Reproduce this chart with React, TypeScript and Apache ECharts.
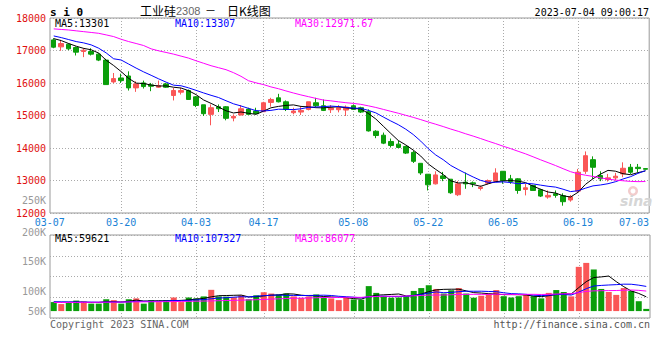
import React, { useEffect, useRef } from 'react';
import * as echarts from 'echarts';

const dates = ['03-07','03-08','03-09','03-10','03-13','03-14','03-15','03-16','03-17','03-20','03-21','03-22','03-23','03-24','03-27','03-28','03-29','03-30','03-31','04-03','04-04','04-06','04-07','04-10','04-11','04-12','04-13','04-14','04-17','04-18','04-19','04-20','04-21','04-24','04-25','04-26','04-27','04-28','05-04','05-05','05-08','05-09','05-10','05-11','05-12','05-15','05-16','05-17','05-18','05-19','05-22','05-23','05-24','05-25','05-26','05-29','05-30','05-31','06-01','06-02','06-05','06-06','06-07','06-08','06-09','06-12','06-13','06-14','06-15','06-16','06-19','06-20','06-21','06-26','06-27','06-28','06-29','06-30','07-03','07-04'];

const opens = [17326,17112,17193,17092,16969,16969,16888,16705,16033,16155,16216,15850,16002,15941,15870,15972,15616,15717,15768,15575,15330,15035,15269,15269,14923,15015,15198,15137,15117,15402,15544,15422,15086,15106,15188,15392,15300,15178,15178,15168,15300,15239,15117,14516,14394,14201,14119,14048,13865,13529,13193,12897,13142,13040,12562,12948,12928,12755,12918,12979,13284,13051,13051,12725,12847,12715,12491,12592,12532,12400,12674,13284,13641,13152,13030,13081,13203,13407,13407,13366];
const closes = [17102,17214,17051,16949,17010,16888,16705,15951,16135,16074,15850,15972,15890,15900,15921,15870,15768,15768,15493,15310,15056,15239,15208,14913,14974,15208,15035,15056,15392,15493,15422,15188,15137,15157,15422,15300,15157,15229,15239,15259,15188,15106,14526,14384,14150,14078,14017,13844,13590,13233,12867,13172,13061,12623,12897,12897,12897,12796,13000,13233,13000,12969,12694,12776,12694,12521,12542,12542,12348,12502,13254,13763,13407,13051,13081,13132,13376,13254,13366,13346];
const lows = [17071,16990,17010,16847,16796,16847,16674,15951,15992,16002,15768,15727,15829,15748,15850,15850,15463,15646,15493,15259,14984,14699,15106,14852,14821,15005,15015,15035,15117,15270,15402,15137,15035,15015,15157,15259,15137,15076,15096,14984,15178,15076,14505,14302,14119,14017,13997,13814,13539,13172,12694,12877,12979,12592,12521,12745,12796,12694,12877,12948,12898,12898,12592,12542,12694,12491,12440,12470,12225,12348,12643,13203,13051,12979,12969,12999,13101,13203,13254,13336];
const highs = [17377,17326,17214,17122,17071,17071,16918,16745,16308,16287,16359,16053,16074,16002,16074,16002,15850,15850,15799,15595,15330,15341,15341,15290,15035,15320,15239,15239,15422,15544,15667,15463,15239,15290,15422,15544,15493,15320,15320,15310,15341,15269,15188,14547,14475,14292,14221,14068,13916,13529,13193,13284,13264,13040,12979,13244,12969,12847,13030,13376,13284,13173,13071,12898,12867,12745,12694,12694,12606,12554,13356,13895,13743,13284,13203,13234,13559,13509,13509,13376];
const volumes = [39000,30400,35200,45600,41800,32300,32300,51300,47500,32300,51300,55100,32300,47500,39000,47500,58900,39000,58900,55100,63700,92200,63700,62700,59900,68400,51300,68400,81700,76000,72200,76000,63700,57000,62700,72200,59900,55100,47500,57000,50400,49400,108300,78900,66500,58000,58900,64600,87400,99800,112100,96000,76000,90300,99800,76000,58000,66500,76000,91200,64600,58900,64600,70300,64600,55100,78900,91200,82700,63700,191900,209000,180500,96000,82700,70300,99800,87400,42800,9500];

const ma5Head = [17366,17305,17214,17132];
const ma10Head = [17448,17397,17336,17275,17234,17173,17071,16926,16745];
const ma30Head = [17665,17648,17631,17605,17580,17555,17529,17480,17428,17346,17275,17215,17153,17051,16990,16940,16888,16827,16766,16684,16608,16532,16471,16410,16318,16206,16070,16005,15951];
const volMa5Head = [39000,38000,38500,39000];
const volMa10Head = [40000,40000,39500,39500,39000,39000,38500,39000,39000];
const volMa30Head = [37000,37200,37400,37600,37800,38000,38200,38500,38800,39000,39400,39800,40000,40300,40600,41000,41400,41800,42300,42800,43400,44200,45000,45800,46600,47400,48300,49200,50400];

const labelDates = ['03-07','03-20','04-03','04-17','05-08','05-22','06-05','06-19','07-03'];
const gridDates = ['03-20','04-03','04-17','05-08','05-22','06-05','06-19'];
const priceTicks = { min: 12000, max: 18000, step: 1000 };
const volTickLabels = ['250K','200K','150K','100K','50K'];

const priceMaLabels = ['MA5:13301', 'MA10:13307', 'MA30:12971.67'];
const volMaLabels = ['MA5:59621', 'MA10:107327', 'MA30:86077'];
const titleParts = ['工业硅', '2308', '－', '日K线图'];
const symbolText = 's i 0';
const stampText = '2023-07-04 09:00:17';
const copyText = 'Copyright 2023 SINA.COM';
const urlText = 'http://finance.sina.com.cn';

const RED = '#fa5656';
const GREEN = '#0a9e0a';
const MONO = '"DejaVu Sans Mono", monospace';
const CJK = '"Noto Sans CJK SC", sans-serif';

function movingAvg(vals: number[], n: number, head: number[]) {
  return vals.map((_, i) => {
    if (i < n - 1) return head[i];
    let s = 0;
    for (let k = i - n + 1; k <= i; k++) s += vals[k];
    return Math.round((s / n) * 100) / 100;
  });
}

export default function App() {
  const ref = useRef<HTMLDivElement>(null);
  useEffect(() => {
    if (!ref.current) return;
    const chart = echarts.init(ref.current, undefined, { renderer: 'svg' });
    const labelIdx = labelDates.map((d) => dates.indexOf(d));
    const gridIdx = gridDates.map((d) => dates.indexOf(d));
    const lastIdx = labelIdx[labelIdx.length - 1];
    const gridLine = { show: true, lineStyle: { color: '#aaa', type: [1, 2] as any, width: 1 } };
    const volTickY = [200, 232, 261, 291, 311];
    const lineSeries = (name: string, data: number[], color: string, xi: number, yi: number) => ({
      type: 'line', name, data, xAxisIndex: xi, yAxisIndex: yi, symbol: 'none', silent: true,
      lineStyle: { color, width: 1 }, z: 3,
    });
    const txt = (text: string, x: number, y: number, fill: string, extra: any = {}) => ({
      type: 'text', x, y, z: 10, silent: true,
      style: { text, fill, fontSize: 10, fontFamily: MONO, align: 'left', verticalAlign: 'middle', ...extra },
    });
    const option: any = {
      animation: false,
      backgroundColor: '#fff',
      grid: [
        { left: 50, right: 10, top: 18, height: 195, show: true, borderColor: '#999', borderWidth: 1 },
        { left: 50, right: 10, top: 235, height: 83, show: true, borderColor: '#999', borderWidth: 1 },
      ],
      xAxis: [
        {
          type: 'category', gridIndex: 0, data: dates, boundaryGap: true,
          axisLine: { show: false }, axisTick: { show: false },
          axisLabel: {
            interval: (i: number) => labelIdx.includes(i),
            color: '#1a82d6', fontSize: 10, fontFamily: MONO, margin: 4, lineHeight: 10,
            formatter: (v: string, i: number) => (i === 0 || i === lastIdx ? `{e|${v}}` : v),
            rich: { e: { padding: [0, 8, 0, 0], color: '#1a82d6', fontSize: 10, fontFamily: MONO, lineHeight: 10 } },
          },
          splitLine: { ...gridLine, interval: (i: number) => gridIdx.includes(i), alignWithLabel: true },
        },
        {
          type: 'category', gridIndex: 1, data: dates, boundaryGap: true,
          axisLine: { show: false }, axisTick: { show: false }, axisLabel: { show: false },
          splitLine: { ...gridLine, interval: (i: number) => gridIdx.includes(i), alignWithLabel: true },
        },
      ],
      yAxis: [
        {
          type: 'value', gridIndex: 0, min: priceTicks.min, max: priceTicks.max, interval: priceTicks.step,
          axisLine: { show: false }, axisTick: { show: false },
          axisLabel: { color: '#e01010', fontSize: 10, fontFamily: MONO, margin: 4, lineHeight: 9, formatter: (v: number) => String(v) },
          splitLine: gridLine,
        },
        {
          type: 'value', gridIndex: 1, min: -30000, max: 330000,
          axisLine: { show: false }, axisTick: { show: false }, axisLabel: { show: false }, splitLine: { show: false },
        },
        {
          type: 'value', gridIndex: 1, min: 0, max: 4, interval: 1, position: 'right',
          axisLine: { show: false }, axisTick: { show: false }, axisLabel: { show: false }, splitLine: gridLine,
        },
      ],
      series: [
        {
          type: 'candlestick', xAxisIndex: 0, yAxisIndex: 0, barWidth: 5, silent: true, z: 2,
          data: dates.map((_, i) => [opens[i], closes[i], lows[i], highs[i]]),
          itemStyle: { color: RED, color0: GREEN, borderColor: RED, borderColor0: GREEN, borderWidth: 1 },
        },
        lineSeries('MA5', movingAvg(closes, 5, ma5Head), '#000000', 0, 0),
        lineSeries('MA10', movingAvg(closes, 10, ma10Head), '#0000ff', 0, 0),
        lineSeries('MA30', movingAvg(closes, 30, ma30Head), '#ff00ff', 0, 0),
        {
          type: 'bar', xAxisIndex: 1, yAxisIndex: 1, barWidth: 6, silent: true, z: 2,
          data: volumes.map((v, i) => ({ value: v, itemStyle: { color: closes[i] >= opens[i] ? RED : GREEN } })),
        },
        lineSeries('VMA5', movingAvg(volumes, 5, volMa5Head), '#000000', 1, 1),
        lineSeries('VMA10', movingAvg(volumes, 10, volMa10Head), '#0000ff', 1, 1),
        lineSeries('VMA30', movingAvg(volumes, 30, volMa30Head), '#ff00ff', 1, 1),
      ],
      graphic: [
        { type: 'ring', shape: { cx: 633, cy: 191, r: 5, r0: 2.5 }, style: { fill: '#f2cccc' }, z: 1, silent: true },
        { type: 'text', x: 620, y: 201, z: 1, silent: true,
          style: { text: 'sina', fill: '#d6d6d6', fontSize: 14, fontStyle: 'italic', fontWeight: 'bold', fontFamily: '"DejaVu Sans", sans-serif', align: 'left', verticalAlign: 'middle' } },
        txt(symbolText, 50, 12, '#000', { fontSize: 11, fontWeight: 'bold' }),
        txt(titleParts[0], 140, 10, '#000', { fontSize: 12, fontFamily: CJK }),
        txt(titleParts[1], 176, 11, '#666', { fontSize: 11, fontFamily: '"Liberation Sans", sans-serif' }),
        txt(titleParts[2], 205, 10, '#000', { fontSize: 11, fontFamily: CJK }),
        txt(titleParts[3], 227, 10, '#000', { fontSize: 12, fontFamily: CJK }),
        txt(stampText, 649, 12, '#000', { align: 'right' }),
        txt(priceMaLabels[0], 55, 23, '#000'),
        txt(priceMaLabels[1], 175, 23, '#0000ff'),
        txt(priceMaLabels[2], 295, 23, '#ff00ff'),
        txt(volMaLabels[0], 55, 238, '#000'),
        txt(volMaLabels[1], 175, 238, '#0000ff'),
        txt(volMaLabels[2], 295, 238, '#ff00ff'),
        ...volTickLabels.map((t, k) => txt(t, 46, volTickY[k], '#999', { align: 'right', lineHeight: 10 })),
        txt(copyText, 50, 324, '#666'),
        txt(urlText, 650, 324, '#555', { align: 'right' }),
      ],
    };
    chart.setOption(option);
    return () => chart.dispose();
  }, []);
  return <div ref={ref} style={{ position: 'fixed', left: 0, top: 0, width: 660, height: 360 }} />;
}
